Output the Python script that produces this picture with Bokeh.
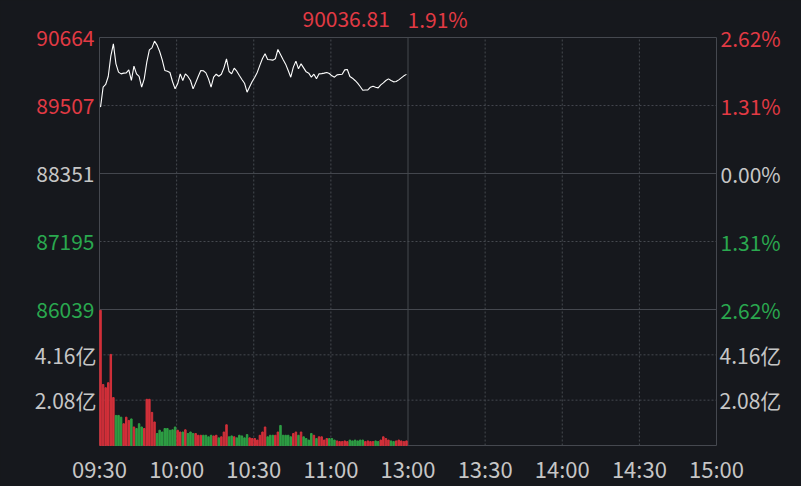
from bokeh.plotting import figure
from bokeh.models import Range1d, ColumnDataSource
from bokeh.core.properties import value
from bokeh.embed import file_html
from bokeh.resources import INLINE

# ---------------- data ----------------
minutes = list(range(120))
prices = [
    89479, 89819, 89865, 90001, 90347, 90556, 90216, 90075, 90046, 90058,
    90062, 90114, 89933, 90177, 90046, 90001, 89819, 89961, 90245, 90454,
    90488, 90602, 90534, 90426, 90284, 90103, 90091, 90069, 89916, 89791,
    89876, 90046, 89933, 90046, 90001, 89933, 89791, 89893, 90001, 90103,
    90098, 90063, 89961, 89819, 89989, 90040, 90006, 90040, 90148, 90301,
    90086, 90046, 90143, 90091, 90018, 89950, 89887, 89734, 89825, 89916,
    89989, 90075, 90194, 90307, 90386, 90290, 90285, 90279, 90301, 90460,
    90375, 90290, 90211, 90103, 89989, 90160, 90262, 90131, 90216, 90148,
    90080, 90058, 89989, 90040, 89961, 90046, 90050, 90058, 90069, 90052,
    90012, 89989, 90029, 90035, 90040, 90114, 90120, 90001, 89972, 89933,
    89887, 89831, 89768, 89772, 89774, 89819, 89836, 89819, 89808, 89859,
    89893, 89933, 89961, 89933, 89910, 89916, 89944, 89978, 90012, 90036.81,
]
volumes = [  # 亿
    6.20, 2.80, 2.65, 2.88, 4.18, 2.20, 1.38, 1.38, 1.30, 1.00,
    1.30, 1.15, 1.22, 0.85, 0.78, 1.00, 0.85, 0.78, 2.12, 2.12,
    1.52, 1.08, 0.55, 0.70, 0.62, 0.78, 0.78, 0.70, 0.72, 0.85,
    0.70, 0.62, 0.62, 0.72, 0.55, 0.62, 0.55, 0.55, 0.47, 0.47,
    0.47, 0.47, 0.40, 0.47, 0.44, 0.47, 0.35, 0.40, 0.62, 0.95,
    0.40, 0.44, 0.40, 0.35, 0.47, 0.44, 0.35, 0.50, 0.35, 0.32,
    0.32, 0.25, 0.47, 0.62, 0.85, 0.40, 0.47, 0.47, 0.47, 0.62,
    0.92, 0.47, 0.47, 0.47, 0.40, 0.55, 0.62, 0.47, 0.62, 0.40,
    0.32, 0.25, 0.55, 0.47, 0.32, 0.40, 0.40, 0.25, 0.32, 0.32,
    0.32, 0.25, 0.21, 0.18, 0.18, 0.21, 0.18, 0.25, 0.21, 0.25,
    0.21, 0.25, 0.25, 0.18, 0.21, 0.18, 0.18, 0.21, 0.18, 0.25,
    0.40, 0.32, 0.25, 0.21, 0.18, 0.21, 0.25, 0.21, 0.18, 0.21,
]
time_ticks = [0, 30, 60, 90, 120, 150, 180, 210, 240]
time_labels = ["09:30", "10:00", "10:30", "11:00", "13:00", "13:30", "14:00", "14:30", "15:00"]
price_ticks = [90664, 89507, 88351, 87195, 86039]
price_tick_labels = ["90664", "89507", "88351", "87195", "86039"]
pct_tick_labels = ["2.62%", "1.31%", "0.00%", "1.31%", "2.62%"]
vol_ticks = [4.16, 2.08]
vol_top = 6.24
vol_tick_labels = ["4.16亿", "2.08亿"]
last_price_text = "90036.81"
last_pct_text = "1.91%"

# ---------------- layout (pixels) ----------------
W, H = 801, 486
L, R, T, MID, B = 99, 716, 37, 309, 445     # chart frame edges and price/volume split

BG = "#16181d"
RED = "#e23a44"
GREEN = "#2aa84f"
BAR_RED = "#d3303a"
BAR_GREEN = "#2e9f44"
GRAY = "#c6c6c6"
LINEC = "#45484f"
FONT = "Noto Sans CJK SC"
FS = "21px"
FS_X = "22px"

# scales: the canvas is the whole frame, chart area is [L,R] x [T,B]
t0, t1 = time_ticks[0], time_ticks[-1]
xpp = (t1 - t0) / (R - L)                       # minutes per pixel
ppp = (price_ticks[0] - price_ticks[-1]) / (MID - T)  # price per pixel
vpp = vol_top / (B - MID)                       # volume per pixel
x_range = Range1d(t0 - L * xpp, t1 + (W - R) * xpp)
y_range = Range1d(price_ticks[-1] - (H - MID) * ppp, price_ticks[0] + T * ppp)
vol_range = Range1d(-(H - B) * vpp, vol_top + MID * vpp)

def px_x(px):
    return t0 + (px - L) * xpp

def px_y(py):
    return price_ticks[0] - (py - T) * ppp

p = figure(width=W, height=H, output_backend="svg", toolbar_location=None,
           x_range=x_range, y_range=y_range, x_axis_location=None, y_axis_location=None,
           min_border=0, min_border_left=0, min_border_right=0,
           min_border_top=0, min_border_bottom=0)
p.extra_y_ranges = {"vol": vol_range}
p.background_fill_color = BG
p.border_fill_color = BG
p.outline_line_color = None
p.grid.visible = False

y_top, y_bot = px_y(T), px_y(B)

# grid / frame lines
solid_h = [price_ticks[0], price_ticks[2], price_ticks[4], y_bot]
dot_h = [price_ticks[1], price_ticks[3]]
p.segment(x0=[t0] * len(solid_h), x1=[t1] * len(solid_h), y0=solid_h, y1=solid_h,
          line_color=LINEC, line_width=1)
p.segment(x0=[t0] * len(dot_h), x1=[t1] * len(dot_h), y0=dot_h, y1=dot_h,
          line_color=LINEC, line_width=1, line_dash="2 2")
p.segment(x0=[t0] * len(vol_ticks), x1=[t1] * len(vol_ticks), y0=vol_ticks, y1=vol_ticks,
          line_color=LINEC, line_width=1, line_dash="2 2", y_range_name="vol")
solid_v = [t0, time_ticks[4], t1]
dot_v = [t for t in time_ticks if t not in solid_v]
p.segment(x0=solid_v, x1=solid_v, y0=[y_bot] * 3, y1=[y_top] * 3, line_color=LINEC, line_width=1)
p.segment(x0=dot_v, x1=dot_v, y0=[y_bot] * len(dot_v), y1=[y_top] * len(dot_v),
          line_color=LINEC, line_width=1, line_dash="2 2")

# volume bars
xs = [m + 0.4 for m in minutes]
colors = [BAR_RED if i == 0 or prices[i] >= prices[i - 1] else BAR_GREEN for i in range(len(prices))]
vsrc = ColumnDataSource(dict(x=xs, top=volumes, color=colors))
p.vbar(x="x", top="top", bottom=0, width=0.58, color="color", source=vsrc, y_range_name="vol")

# price line
p.line(xs, prices, line_color="white", line_width=1.1)

# tick labels
lcolors = [RED, RED, GRAY, GREEN, GREEN]
tf = dict(text_font=value(FONT), text_font_size=value(FS), text_baseline="middle")
p.text(x=[px_x(L - 5)] * 5, y=price_ticks, text=price_tick_labels, text_color=lcolors,
       text_align="right", **tf)
p.text(x=[px_x(R + 4)] * 5, y=price_ticks, text=pct_tick_labels, text_color=lcolors,
       text_align="left", **tf)
p.text(x=[px_x(L - 3)] * 2, y=vol_ticks, text=vol_tick_labels, text_color=GRAY,
       text_align="right", y_range_name="vol", **tf)
p.text(x=[px_x(R + 3)] * 2, y=vol_ticks, text=vol_tick_labels, text_color=GRAY,
       text_align="left", y_range_name="vol", **tf)
p.text(x=time_ticks, y=[px_y(B + 22)] * len(time_ticks), text=time_labels, text_color=GRAY,
       text_align="center", text_font=value(FONT), text_font_size=value(FS_X),
       text_baseline="middle")

# header
p.text(x=[px_x(302), px_x(407)], y=[px_y(18)] * 2, text=[last_price_text, last_pct_text],
       text_color=RED, text_align="left", **tf)

html = file_html(p, INLINE)
html = html.replace("<head>", "<head><style>html,body{margin:0;padding:0;overflow:hidden;background:%s}</style>" % BG, 1)
open("out.html", "w").write(html)
